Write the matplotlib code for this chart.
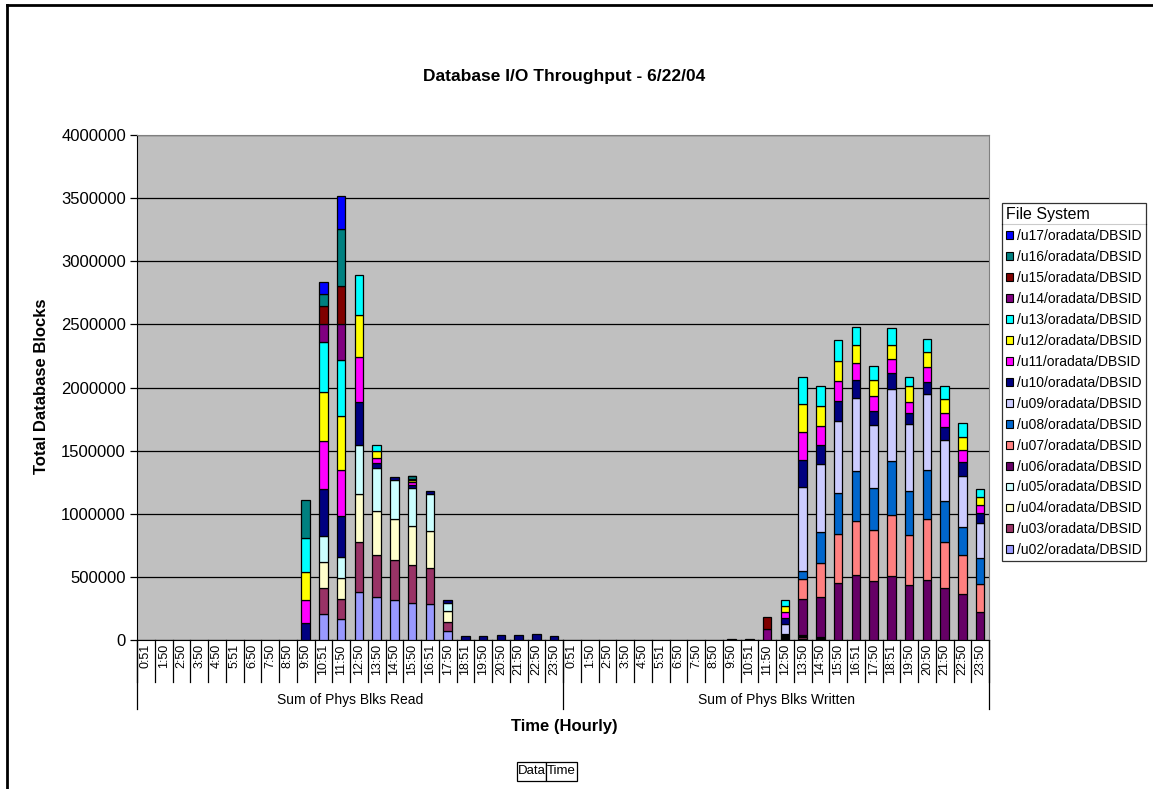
import matplotlib.pyplot as plt
import matplotlib.patches as mpatches
import numpy as np

plt.rcParams['font.family'] = ['Liberation Sans', 'DejaVu Sans']

# hourly sample times (same for both groups)
times = ['0:51', '1:50', '2:50', '3:50', '4:50', '5:51', '6:50', '7:50', '8:50',
         '9:50', '10:51', '11:50', '12:50', '13:50', '14:50', '15:50', '16:51',
         '17:50', '18:51', '19:50', '20:50', '21:50', '22:50', '23:50']
groups = ['Sum of Phys Blks Read', 'Sum of Phys Blks Written']

# blocks, in thousands, per file system: 24 read values then 24 written values
u02 = [0, 0, 0, 0, 0, 0, 0, 0, 0, 0, 205, 166, 384, 337, 316, 297, 284, 68, 0, 0, 0, 0, 0, 0,
       0, 0, 0, 0, 0, 0, 0, 0, 0, 0, 0, 0, 8, 10, 6, 0, 0, 0, 0, 0, 0, 0, 0, 0]
u03 = [0, 0, 0, 0, 0, 0, 0, 0, 0, 0, 203, 158, 392, 337, 318, 297, 289, 76, 0, 0, 0, 0, 0, 0,
       0, 0, 0, 0, 0, 0, 0, 0, 0, 0, 0, 0, 8, 10, 6, 0, 0, 0, 0, 0, 0, 0, 0, 0]
u04 = [0, 0, 0, 0, 0, 0, 0, 0, 0, 0, 210, 171, 384, 347, 326, 308, 289, 82, 0, 0, 0, 0, 0, 0,
       0, 0, 0, 0, 0, 0, 0, 0, 0, 0, 0, 0, 8, 10, 6, 0, 0, 0, 0, 0, 0, 0, 0, 0]
u05 = [0, 0, 0, 0, 0, 0, 0, 0, 0, 0, 205, 166, 381, 342, 310, 302, 294, 66, 0, 0, 0, 0, 0, 0,
       0, 0, 0, 0, 0, 0, 0, 0, 0, 0, 0, 0, 8, 10, 6, 0, 0, 0, 0, 0, 0, 0, 0, 0]
u06 = [0, 0, 0, 0, 0, 0, 0, 0, 0, 0, 0, 0, 0, 0, 0, 0, 0, 0, 0, 0, 0, 0, 0, 0,
       0, 0, 0, 0, 0, 0, 0, 0, 0, 6, 0, 0, 8, 283, 313, 455, 513, 468, 508, 437, 476, 410, 368, 224]
u07 = [0, 0, 0, 0, 0, 0, 0, 0, 0, 0, 0, 0, 0, 0, 0, 0, 0, 0, 0, 0, 0, 0, 0, 0,
       0, 0, 0, 0, 0, 0, 0, 0, 0, 0, 0, 0, 4, 158, 276, 387, 429, 400, 481, 395, 484, 365, 302, 218]
u08 = [0, 0, 0, 0, 0, 0, 0, 0, 0, 0, 0, 0, 0, 0, 0, 0, 0, 0, 0, 0, 0, 0, 0, 0,
       0, 0, 0, 0, 0, 0, 0, 0, 0, 0, 0, 0, 3, 66, 242, 323, 395, 337, 426, 347, 389, 323, 226, 205]
u09 = [0, 0, 0, 0, 0, 0, 0, 0, 0, 0, 0, 0, 0, 0, 0, 0, 0, 0, 0, 0, 0, 0, 0, 0,
       0, 0, 0, 0, 0, 0, 0, 0, 0, 0, 4, 0, 79, 663, 539, 566, 579, 500, 573, 534, 600, 487, 405, 281]
u10 = [0, 0, 0, 0, 0, 0, 0, 0, 0, 131, 376, 321, 342, 42, 24, 22, 24, 24, 33, 35, 37, 38, 45, 35,
       0, 0, 0, 0, 0, 0, 0, 0, 0, 0, 0, 0, 47, 218, 147, 163, 142, 105, 126, 84, 92, 105, 105, 74]
u11 = [0, 0, 0, 0, 0, 0, 0, 0, 0, 187, 381, 368, 355, 37, 0, 22, 0, 0, 0, 0, 0, 0, 0, 0,
       0, 0, 0, 0, 0, 0, 0, 0, 0, 0, 0, 0, 47, 218, 155, 158, 134, 124, 110, 87, 124, 105, 95, 66]
u12 = [0, 0, 0, 0, 0, 0, 0, 0, 0, 221, 387, 421, 334, 55, 0, 18, 0, 0, 0, 0, 0, 0, 0, 0,
       0, 0, 0, 0, 0, 0, 0, 0, 0, 0, 0, 0, 47, 221, 160, 160, 145, 126, 110, 124, 113, 110, 105, 63]
u13 = [0, 0, 0, 0, 0, 0, 0, 0, 0, 271, 394, 447, 321, 45, 0, 5, 0, 0, 0, 0, 0, 0, 0, 0,
       0, 0, 0, 0, 0, 0, 0, 0, 0, 0, 0, 0, 50, 218, 155, 163, 142, 110, 134, 79, 105, 105, 110, 66]
u14 = [0, 0, 0, 0, 0, 0, 0, 0, 0, 0, 140, 284, 0, 0, 0, 5, 0, 0, 0, 0, 0, 0, 0, 0,
       0, 0, 0, 0, 0, 0, 0, 0, 0, 0, 0, 87, 0, 0, 0, 0, 0, 0, 0, 0, 0, 0, 0, 0]
u15 = [0, 0, 0, 0, 0, 0, 0, 0, 0, 0, 142, 300, 0, 0, 0, 0, 0, 0, 0, 0, 0, 0, 0, 0,
       0, 0, 0, 0, 0, 0, 0, 0, 0, 0, 0, 97, 0, 0, 0, 0, 0, 0, 0, 0, 0, 0, 0, 0]
u16 = [0, 0, 0, 0, 0, 0, 0, 0, 0, 302, 97, 455, 0, 0, 0, 20, 0, 0, 0, 0, 0, 0, 0, 0,
       0, 0, 0, 0, 0, 0, 0, 0, 0, 0, 0, 0, 0, 0, 0, 0, 0, 0, 0, 0, 0, 0, 0, 0]
u17 = [0, 0, 0, 0, 0, 0, 0, 0, 0, 0, 95, 258, 0, 0, 0, 5, 0, 0, 0, 0, 0, 0, 0, 0,
       0, 0, 0, 0, 0, 0, 0, 0, 0, 0, 0, 0, 0, 0, 0, 0, 0, 0, 0, 0, 0, 0, 0, 0]

series = [u02, u03, u04, u05, u06, u07, u08, u09, u10, u11, u12, u13, u14, u15, u16, u17]
names = ['/u%02d/oradata/DBSID' % i for i in range(2, 18)]
colors = ['#9999FF', '#993366', '#FFFFCC', '#CCFFFF', '#660066', '#FF8080', '#0066CC', '#CCCCFF',
          '#000080', '#FF00FF', '#FFFF00', '#00FFFF', '#800080', '#800000', '#008080', '#0000FF']

W, H = 1153, 789
fig = plt.figure(figsize=(W / 100, H / 100), dpi=100)
ax = fig.add_axes([137 / W, 1 - 640 / H, (989 - 137) / W, (640 - 135) / H])
ax.set_facecolor('#C0C0C0')

x = np.arange(len(times) * 2)
bottom = np.zeros(len(x))
handles = []
for vals, name, col in zip(series, names, colors):
    v = np.array(vals, dtype=float) * 1000
    m = v > 0
    ax.bar(x[m], v[m], bottom=bottom[m], width=0.47, color=col, edgecolor='black', linewidth=0.9, zorder=3)
    bottom += v
    handles.append(mpatches.Patch(facecolor=col, edgecolor='black', linewidth=0.8, label=name))

ax.set_xlim(-0.5, len(x) - 0.5)
ax.set_ylim(0, 4000000)
yt = np.arange(0, 4000001, 500000)
ax.set_yticks(yt)
ax.set_yticklabels([str(int(t)) for t in yt], fontsize=12)
ax.yaxis.grid(True, color='black', linewidth=0.9, zorder=1)
ax.set_axisbelow(True)
ax.tick_params(axis='y', direction='out', length=5, width=0.9, pad=3)

ax.set_xticks(x)
ax.set_xticklabels(times + times, rotation=90, fontsize=9, va='top')
ax.tick_params(axis='x', length=0, pad=3)

for s in ['top', 'right']:
    ax.spines[s].set_color('#808080')
ax.spines['left'].set_color('black')
ax.spines['bottom'].set_color('black')

# category / group separators below the axis
ah = 640 - 135
for k in range(len(x) + 1):
    ax.plot([k - 0.5, k - 0.5], [0, -42 / ah], transform=ax.get_xaxis_transform(),
            color='black', linewidth=0.9, clip_on=False)
for k in [0, 24, 48]:
    ax.plot([k - 0.5, k - 0.5], [0, -69 / ah], transform=ax.get_xaxis_transform(),
            color='black', linewidth=0.9, clip_on=False)
for g, name in enumerate(groups):
    ax.text(g * 24 + 11.5, -60 / ah, name, transform=ax.get_xaxis_transform(),
            ha='center', va='center', fontsize=10)

fig.text(564 / W, 1 - 77 / H, 'Database I/O Throughput - 6/22/04', ha='center', va='center',
         fontsize=12.5, fontweight='bold')
fig.text(564 / W, 1 - 727 / H, 'Time (Hourly)', ha='center', va='center', fontsize=12, fontweight='bold')
fig.text(42 / W, 1 - 386 / H, 'Total Database Blocks', ha='center', va='center', rotation=90,
         fontsize=12, fontweight='bold')

leg = fig.legend(handles=handles[::-1], title='File System', loc='upper left',
                 bbox_to_anchor=(1002 / W, 1 - 203 / H), fontsize=10, title_fontsize=11.5,
                 frameon=True, fancybox=False, edgecolor='black', handlelength=0.5, handleheight=0.5,
                 handletextpad=0.25, labelspacing=0.5, borderpad=0.3, borderaxespad=0)
leg.get_frame().set_linewidth(0.9)
leg._legend_box.align = 'left'

# line under the legend title
fig.canvas.draw()
lb = leg.get_window_extent()
tb = leg.get_title().get_window_extent()
ysep = (tb.y0 - 2) / H
fig.add_artist(plt.Line2D([lb.x0 / W, lb.x1 / W], [ysep, ysep], transform=fig.transFigure,
                          color='black', linewidth=0.8))

# pivot field buttons
for label, x0, x1 in [('Data', 517, 546), ('Time', 546, 577)]:
    fig.add_artist(mpatches.Rectangle((x0 / W, 1 - 781 / H), (x1 - x0) / W, 19 / H,
                                      transform=fig.transFigure, facecolor='white',
                                      edgecolor='black', linewidth=0.9))
    fig.text((x0 + x1) / 2 / W, 1 - 771.5 / H, label, ha='center', va='center', fontsize=9.5)

# outer chart border
fig.add_artist(plt.Line2D([7 / W, 7 / W], [0, 1 - 5 / H], transform=fig.transFigure, color='black', linewidth=2))
fig.add_artist(plt.Line2D([7 / W, 1], [1 - 5 / H, 1 - 5 / H], transform=fig.transFigure, color='black', linewidth=2))

fig.savefig('out.png', dpi=100)
